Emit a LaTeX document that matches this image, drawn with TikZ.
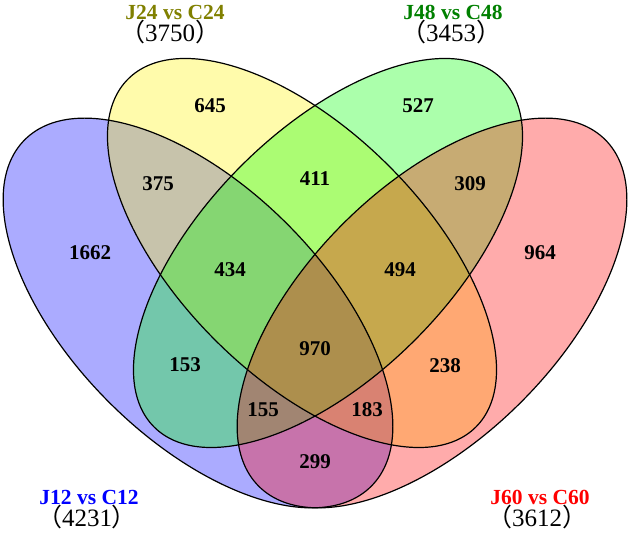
\documentclass[tikz,border=0pt]{standalone}
\usepackage{fontspec}
\setmainfont{Liberation Serif}
\newfontfamily\cjk{Noto Sans CJK SC}
\usepackage{tikz}
\definecolor{darkgreen}{RGB}{0,128,0}
\definecolor{darkolive}{RGB}{128,128,0}

\begin{document}
\begin{tikzpicture}[x=1pt,y=1pt,
    num/.style={font=\fontsize{21}{24}\selectfont\bfseries, inner sep=0pt},
    setname/.style={font=\fontsize{21.5}{24}\selectfont\bfseries, inner sep=0pt},
    total/.style={font=\fontsize{25}{30}\selectfont, inner sep=0pt,
        text height=17pt, text depth=0pt},
    shade/.style={fill opacity=0.33},
    rim/.style={line width=1.2pt}]
    \useasboundingbox (0,0) rectangle (630,535);
    \coordinate (J12) at (198,222);
    \coordinate (J24) at (302,282);
    \coordinate (J48) at (328,282);
    \coordinate (J60) at (432,222);
    % fills first, outlines after
    \fill[blue,shade,rotate around={-45:(J12)}] (J12) ellipse [x radius=245pt, y radius=126pt];
    \fill[yellow,shade,rotate around={-45:(J24)}] (J24) ellipse [x radius=246pt, y radius=123pt];
    \fill[green,shade,rotate around={45:(J48)}] (J48) ellipse [x radius=246pt, y radius=123pt];
    \fill[red,shade,rotate around={45:(J60)}] (J60) ellipse [x radius=245pt, y radius=126pt];
    \draw[rim,rotate around={-45:(J12)}] (J12) ellipse [x radius=245pt, y radius=126pt];
    \draw[rim,rotate around={-45:(J24)}] (J24) ellipse [x radius=246pt, y radius=123pt];
    \draw[rim,rotate around={45:(J48)}] (J48) ellipse [x radius=246pt, y radius=123pt];
    \draw[rim,rotate around={45:(J60)}] (J60) ellipse [x radius=245pt, y radius=126pt];
    % region counts
    \node[num] (n645) at (210,429) {645};
    \node[num] (n527) at (418,429) {527};
    \node[num] (n375) at (158,351) {375};
    \node[num] (n411) at (315,356) {411};
    \node[num] (n309) at (470,351) {309};
    \node[num] (n1662) at (90,282) {1662};
    \node[num] (n964) at (540,282) {964};
    \node[num] (n434) at (230,265) {434};
    \node[num] (n494) at (400,265) {494};
    \node[num] (n970) at (315,186) {970};
    \node[num] (n153) at (185,170) {153};
    \node[num] (n238) at (445,169) {238};
    \node[num] (n155) at (263,125) {155};
    \node[num] (n183) at (367,125) {183};
    \node[num] (n299) at (315,73) {299};
    % set names
    \node[setname,darkolive] (t24) at (175,523) {J24 vs C24};
    \node[total] (s24) at (170,502) {{\cjk （}3750{\cjk ）}};
    \node[setname,darkgreen] (t48) at (453,523) {J48 vs C48};
    \node[total] (s48) at (451,502) {{\cjk （}3453{\cjk ）}};
    \node[setname,blue] (t12) at (89,38) {J12 vs C12};
    \node[total] (s12) at (87,17) {{\cjk （}4231{\cjk ）}};
    \node[setname,red] (t60) at (540,38) {J60 vs C60};
    \node[total] (s60) at (537,17) {{\cjk （}3612{\cjk ）}};
\end{tikzpicture}
\end{document}
